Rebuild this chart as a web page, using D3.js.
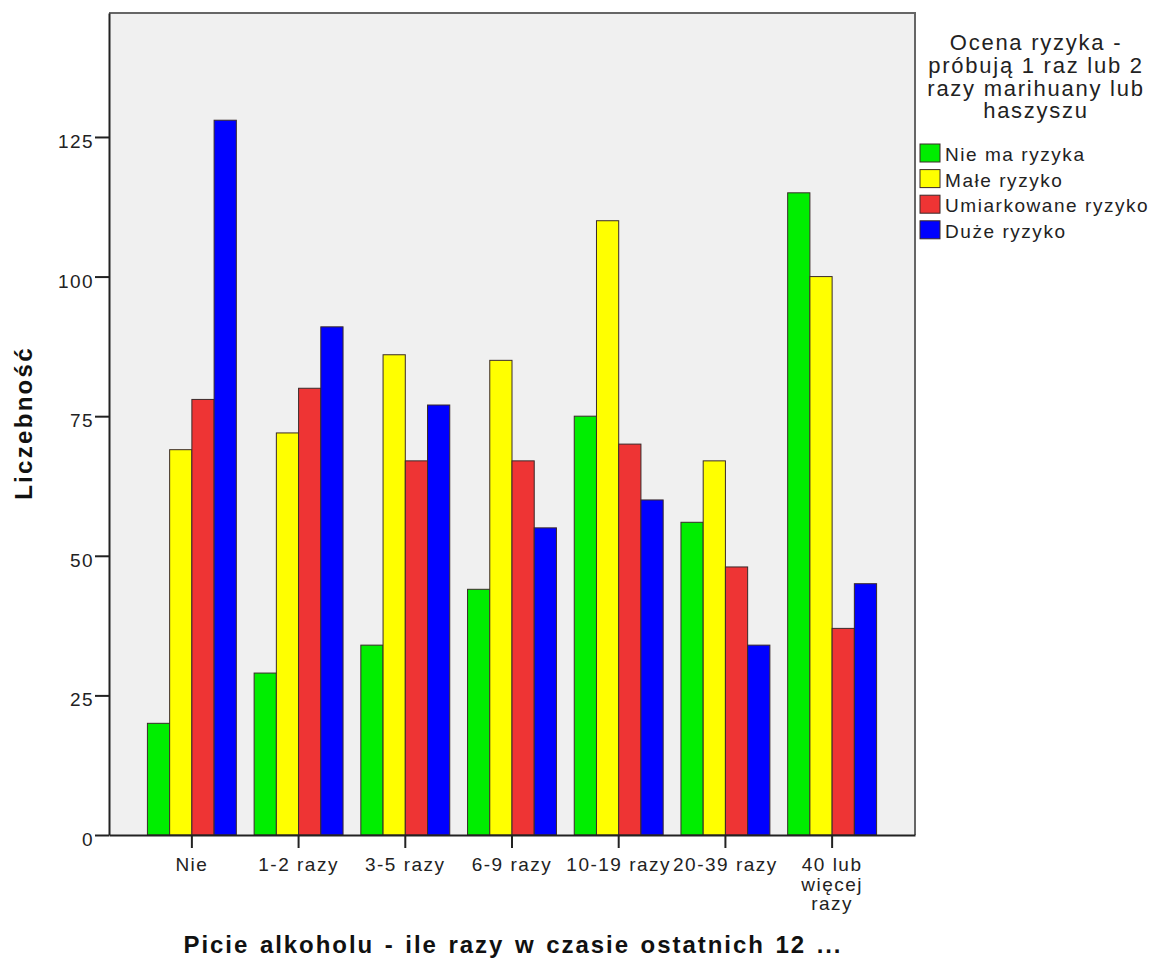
<!DOCTYPE html>
<html><head><meta charset="utf-8">
<script src="https://cdn.jsdelivr.net/npm/d3@7"></script>
<style>body{margin:0;background:#fff;} svg{display:block;}</style>
</head><body>
<script>
const categories = ["Nie","1-2 razy","3-5 razy","6-9 razy","10-19 razy","20-39 razy","40 lub więcej razy"];
const seriesNames = ["Nie ma ryzyka","Małe ryzyko","Umiarkowane ryzyko","Duże ryzyko"];
const nieMaRyzyka = [20,29,34,44,75,56,115];
const maleRyzyko = [69,72,86,85,110,67,100];
const umiarkowaneRyzyko = [78,80,67,67,70,48,37];
const duzeRyzyko = [128,91,77,55,60,34,45];
const yTicks = [0,25,50,75,100,125];
const seriesColors = ["#00ee00","#ffff00","#ee3434","#0000ff"];
const legendTitle = ["Ocena ryzyka -","próbują 1 raz lub 2","razy marihuany lub","haszyszu"];
const xTitle = "Picie alkoholu - ile razy w czasie ostatnich 12 ...";
const yTitle = "Liczebność";

const values = [nieMaRyzyka, maleRyzyko, umiarkowaneRyzyko, duzeRyzyko];
const W = 1151, H = 962;
const L = 109, R = 915, T = 13, B = 835;
const font = "'Liberation Sans', Arial, sans-serif";

const svg = d3.select("body").append("svg").attr("width", W).attr("height", H)
  .style("font-family", font);

const x0 = d3.scaleBand().domain(categories).range([L, R]).paddingInner(0.1667).paddingOuter(0.36);
const x1 = d3.scaleBand().domain(seriesNames).range([0, x0.bandwidth()]);
const y = d3.scaleLinear().domain([0, 147.2]).range([B, T]);

svg.append("rect").attr("x", L).attr("y", T).attr("width", R - L).attr("height", B - T)
  .attr("fill", "#f0f0f0");

// top/right frame (grey)
svg.append("path").attr("d", `M${L},${T}H${R}V${B}`).attr("fill", "none")
  .attr("stroke", "#666").attr("stroke-width", 2);

const groups = svg.append("g").selectAll("g").data(categories).join("g")
  .attr("transform", d => `translate(${x0(d)},0)`);
groups.selectAll("rect").data((c, i) => seriesNames.map((s, j) => ({s, j, v: values[j][i]})))
  .join("rect")
  .attr("x", d => x1(d.s)).attr("width", x1.bandwidth())
  .attr("y", d => y(d.v)).attr("height", d => B - y(d.v))
  .attr("fill", d => seriesColors[d.j])
  .attr("stroke", "#3a2a2a").attr("stroke-width", 1);

// Y axis
const yAxis = svg.append("g").attr("transform", `translate(${L},0)`)
  .call(d3.axisLeft(y).tickValues(yTicks).tickSize(14).tickPadding(1).tickSizeOuter(0));
yAxis.select(".domain").attr("stroke", "#222").attr("stroke-width", 2);
yAxis.selectAll(".tick line").attr("stroke", "#222").attr("stroke-width", 2);
yAxis.selectAll(".tick text").attr("font-size", 19).attr("font-family", font).attr("fill", "#222")
  .attr("letter-spacing", 1.4).attr("dy", "0.55em");

// X axis
const xAxis = svg.append("g").attr("transform", `translate(0,${B})`)
  .call(d3.axisBottom(x0).tickSize(13).tickPadding(10).tickSizeOuter(0));
xAxis.select(".domain").attr("stroke", "#222").attr("stroke-width", 2);
xAxis.selectAll(".tick line").attr("stroke", "#222").attr("stroke-width", 2);
xAxis.selectAll(".tick text").attr("font-size", 19).attr("font-family", font).attr("fill", "#222")
  .attr("letter-spacing", 1.5)
  .each(function(d) {
    if (d === "40 lub więcej razy") {
      const t = d3.select(this); t.text(null);
      ["40 lub","więcej","razy"].forEach((w, i) => t.append("tspan").attr("x", 0)
        .attr("dy", i === 0 ? "0.71em" : "19.3px").text(w));
    }
  });

// titles
svg.append("text").attr("x", 513).attr("y", 953).attr("text-anchor", "middle")
  .attr("font-size", 24).attr("font-weight", "bold").attr("fill", "#111")
  .attr("letter-spacing", 1.95).attr("word-spacing", 2).text(xTitle);
svg.append("text").attr("transform", "translate(32,423) rotate(-90)").attr("text-anchor", "middle")
  .attr("font-size", 24).attr("font-weight", "bold").attr("fill", "#111")
  .attr("letter-spacing", 2.3).text(yTitle);

// legend
const lg = svg.append("g");
legendTitle.forEach((t, i) => lg.append("text").attr("x", 1036).attr("y", 50 + i * 22.75)
  .attr("text-anchor", "middle").attr("font-size", 22).attr("letter-spacing", 1.75)
  .attr("fill", "#222").text(t));
const li = lg.selectAll("g.item").data(seriesNames).join("g").attr("class", "item")
  .attr("transform", (d, i) => `translate(920,${144 + i * 25.6})`);
li.append("rect").attr("width", 20).attr("height", 18).attr("fill", (d, i) => seriesColors[i])
  .attr("stroke", "#3a2a2a").attr("stroke-width", 1);
li.append("text").attr("x", 25).attr("y", 17).attr("font-size", 19).attr("letter-spacing", 1.55)
  .attr("fill", "#222").text(d => d);
</script>
</body></html>
